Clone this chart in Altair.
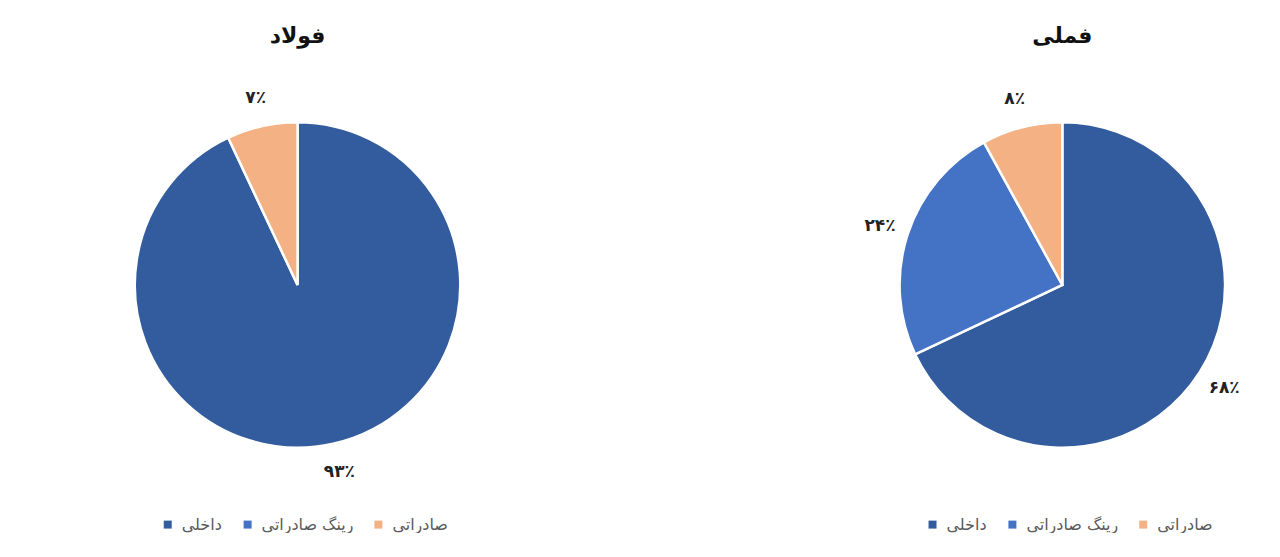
import altair as alt
import pandas as pd

categories = ["داخلی", "رینگ صادراتی", "صادراتی"]
colors = ["#335C9E", "#4472C4", "#F4B183"]

foulad_cats = ["داخلی", "صادراتی"]
foulad_vals = [93, 7]

fameli_cats = ["داخلی", "رینگ صادراتی", "صادراتی"]
fameli_vals = [68, 24, 8]

PERSIAN = str.maketrans("0123456789", "۰۱۲۳۴۵۶۷۸۹")


def to_df(cats, vals):
    return pd.DataFrame({
        "cat": cats,
        "val": vals,
        "ord": [categories.index(c) for c in cats],
        "label": [str(v).translate(PERSIAN) + "٪" for v in vals],
    })


FONT = "DejaVu Sans"


def pie(cats, vals, title):
    df = to_df(cats, vals)
    base = alt.Chart(df).encode(
        theta=alt.Theta("val:Q", stack=True),
        order=alt.Order("ord:Q", sort="ascending"),
    )
    arcs = base.mark_arc(outerRadius=163, stroke="white", strokeWidth=2.5).encode(
        color=alt.Color(
            "cat:N",
            scale=alt.Scale(domain=categories, range=colors),
            legend=alt.Legend(
                title=None,
                orient="none",
                legendX=72,
                legendY=452,
                direction="horizontal",
                symbolType="square",
                symbolSize=64,
                symbolStrokeWidth=0,
                labelFontSize=16,
                labelColor="#595959",
                labelFont=FONT,
                labelOffset=6,
                columnPadding=17,
            ),
        )
    )
    labels = base.mark_text(
        radius=192, fontSize=17, fontWeight="bold", font=FONT, color="#222222"
    ).encode(text="label:N")
    return alt.layer(arcs, labels).properties(
        width=420,
        height=440,
        title=alt.TitleParams(
            title, fontSize=22, fontWeight="bold", font=FONT, color="#111111",
            anchor="middle", offset=17,
        ),
    )


chart = alt.hconcat(
    pie(foulad_cats, foulad_vals, "فولاد"),
    pie(fameli_cats, fameli_vals, "فملی"),
    spacing=346,
).resolve_scale(color="independent").properties(
    padding={"left": 80, "top": 17, "right": 0, "bottom": 0}
).configure_view(stroke=None).configure(background="white")

chart.save("out.html", embed_options={"renderer": "svg", "actions": False})
